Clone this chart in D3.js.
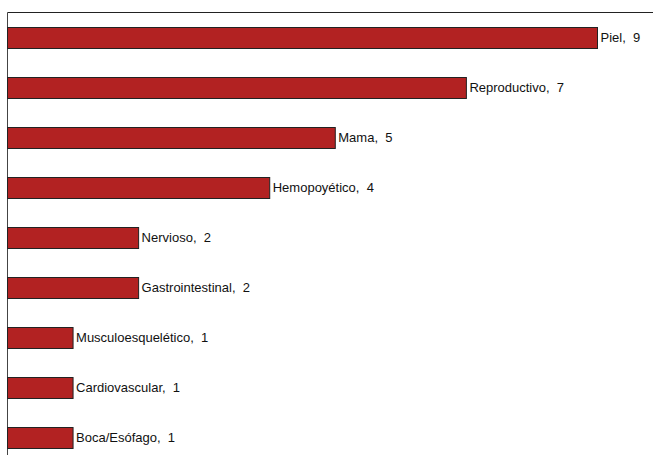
<!DOCTYPE html>
<html>
<head>
<meta charset="utf-8">
<script src="https://cdn.jsdelivr.net/npm/d3@7"></script>
<style>
    body { margin: 0; background: #fff; }
    text { font-family: "Liberation Sans", Arial, sans-serif; white-space: pre; }
</style>
</head>
<body>
<div id="chart"></div>
<script>
"use strict";

// datos
var categorias = ["Piel", "Reproductivo", "Mama", "Hemopoyético", "Nervioso",
    "Gastrointestinal", "Musculoesquelético", "Cardiovascular", "Boca/Esófago"];
var valores = [9, 7, 5, 4, 2, 2, 1, 1, 1];

var width = 657, height = 455;

var svg = d3.select("#chart").append("svg")
    .attr("width", width)
    .attr("height", height);

var x0 = 7.5, topY = 12.5;

// escalas
var x = d3.scaleLinear().domain([0, 9]).range([x0, 597.5]);
var y = d3.scaleBand()
    .domain(categorias)
    .range([27, 448])
    .paddingInner(0.58)
    .paddingOuter(0);

// marco superior y eje izquierdo
svg.append("line")
    .attr("x1", x0).attr("x2", 653)
    .attr("y1", topY).attr("y2", topY)
    .attr("stroke", "#222").attr("stroke-width", 1);
svg.append("line")
    .attr("x1", x0).attr("x2", x0)
    .attr("y1", topY).attr("y2", height)
    .attr("stroke", "#444").attr("stroke-width", 1);

// barras
svg.selectAll(".bar")
    .data(valores)
    .enter()
    .append("rect")
    .attr("class", "bar")
    .attr("x", x0)
    .attr("y", function(d, i){ return Math.round(y(categorias[i])) + 0.5; })
    .attr("width", function(d){ return x(d) - x0; })
    .attr("height", Math.round(y.bandwidth()))
    .attr("fill", "#B22222")
    .attr("stroke", "#222")
    .attr("stroke-width", 1);

// etiquetas
svg.selectAll(".lbl")
    .data(valores)
    .enter()
    .append("text")
    .attr("class", "lbl")
    .attr("x", function(d){ return x(d) + 3; })
    .attr("y", function(d, i){ return y(categorias[i]) + y.bandwidth() / 2 + 4.5; })
    .attr("font-size", 13)
    .attr("fill", "#111")
    .text(function(d, i){ return categorias[i] + ",  " + d; });
</script>
</body>
</html>
